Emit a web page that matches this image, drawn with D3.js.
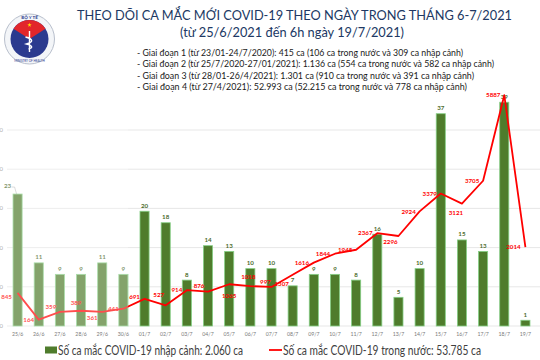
<!DOCTYPE html>
<html>
<head>
<meta charset="utf-8">
<script src="https://cdn.jsdelivr.net/npm/d3@7"></script>
<style>
  body { margin: 0; background: #fff; }
  svg { display: block; font-family: Lato, 'Open Sans', sans-serif; }
</style>
</head>
<body>
<svg id="chart" width="540" height="360"></svg>
<script>
// data
const dates = ['25/6', '26/6', '27/6', '28/6', '29/6', '30/6', '01/7', '02/7', '03/7', '04/7', '05/7', '06/7', '07/7',
    '08/7', '09/7', '10/7', '11/7', '12/7', '13/7', '14/7', '15/7', '16/7', '17/7', '18/7', '19/7'];
const importedCases = [23, 11, 9, 9, 11, 9, 20, 18, 8, 14, 13, 10, 10, 7, 9, 9, 8, 16, 5, 10, 37, 15, 13, 39, 1];
const domesticCases = [845, 164, 359, 389, 361, 441, 691, 527, 914, 876, 1065, 1018, 997, 1307, 1616, 1844, 1945,
    2367, 2296, 2924, 3379, 3121, 3705, 5887, 2014];
const lineTicks = [0, 1000, 2000, 3000, 4000, 5000];

const titleLines = ['THEO DÕI CA MẮC MỚI COVID-19 THEO NGÀY TRONG THÁNG 6-7/2021',
    '(từ 25/6/2021 đến 6h ngày 19/7/2021)'];
const phaseLines = [
    '- Giai đoạn 1 (từ 23/01-24/7/2020): 415 ca (106 ca trong nước và 309 ca nhập cảnh)',
    '- Giai đoạn 2 (từ 25/7/2020-27/01/2021): 1.136 ca (554 ca trong nước và 582 ca nhập cảnh)',
    '- Giai đoạn 3 (từ 28/01-26/4/2021): 1.301 ca (910 ca trong nước và 391 ca nhập cảnh)',
    '- Giai đoạn 4 (từ 27/4/2021): 52.993 ca (52.215 ca trong nước và 778 ca nhập cảnh)'
];
const legendLabels = ['Số ca mắc COVID-19 nhập cảnh: 2.060 ca', 'Số ca mắc COVID-19 trong nước: 53.785 ca'];

// where the red labels sit next to their points (layout only)
const lineLabelDx = [-11, -10, -9, -5, -10, -10, -10, -7, -10, -9, 0, -2, -6, -11, -12, -12, -11, -12, -8, -11, -11, -6, -11, -11, -12];
const lineLabelDy = [4, 0, -5, -8, 6, 0, -2, -11, 0, -6, 12, -9, -5, 9, 0, 0, 0, 0, 6, 0, 0, 9, 0, 0, 0];

const svg = d3.select('#chart');
const baseY = 326;

const x = d3.scaleBand()
    .domain(dates)
    .range([7, 536])
    .paddingInner(0.57)
    .paddingOuter(0.285);
const yBar = d3.scaleLinear().domain([0, 40]).range([baseY, 96.5]);
const yLine = d3.scaleLinear().domain([0, 5000]).range([baseY, 130]);
const cx = d => x(d) + x.bandwidth() / 2;

// logo
const logo = svg.append('g').attr('transform', 'translate(29.5, 39)');
logo.append('circle').attr('r', 25).attr('fill', '#f3f5f8').attr('stroke', '#b8bfcc').attr('stroke-width', 1);
logo.append('circle').attr('r', 19).attr('fill', '#2b3a8f');
logo.append('path')
    .attr('d', d3.arc()({ innerRadius: 0, outerRadius: 19, startAngle: -1.0, endAngle: 1.0 }))
    .attr('fill', '#e2262b');
logo.append('path')
    .attr('d', d3.symbol(d3.symbolStar, 6)())
    .attr('transform', 'translate(0, -14)')
    .attr('fill', '#ffd400');
logo.append('path')
    .attr('d', 'M0,-8 L0,13 M-4,-2 C4,0 4,3 -3,5 C4,7 3,9 -1,10')
    .attr('fill', 'none').attr('stroke', '#fff').attr('stroke-width', 1.4);
logo.append('text').attr('y', -20).attr('text-anchor', 'middle')
    .attr('font-size', 4.5).attr('font-weight', 700).attr('fill', '#2b3a8f').text('BỘ Y TẾ');
logo.append('text').attr('y', 23).attr('text-anchor', 'middle')
    .attr('font-size', 3).attr('fill', '#2b3a8f').text('MINISTRY OF HEALTH');

// title
svg.append('text').attr('x', 77).attr('y', 20)
    .attr('font-size', 13.5).attr('fill', '#203864')
    .attr('textLength', 435).attr('lengthAdjust', 'spacingAndGlyphs')
    .text(titleLines[0]);
svg.append('text').attr('x', 180).attr('y', 37)
    .attr('font-size', 13.5).attr('fill', '#203864')
    .attr('textLength', 224).attr('lengthAdjust', 'spacingAndGlyphs')
    .text(titleLines[1]);

// the four phases
const phaseWidths = [326, 357, 337, 330];
svg.selectAll('text.phase')
    .data(phaseLines)
    .enter()
    .append('text')
    .attr('class', 'phase')
    .attr('x', 137)
    .attr('y', (d, i) => 56 + i * 11.3)
    .attr('font-size', 9.5)
    .attr('fill', '#1a1a1a')
    .attr('textLength', (d, i) => phaseWidths[i])
    .attr('lengthAdjust', 'spacingAndGlyphs')
    .text(d => d);

// gridlines for the line axis, labels mostly cut by the left edge
const grid = svg.append('g');
grid.selectAll('line')
    .data(lineTicks)
    .enter()
    .append('line')
    .attr('x1', 7).attr('x2', 540)
    .attr('y1', d => yLine(d)).attr('y2', d => yLine(d))
    .attr('stroke', '#dcdcdc').attr('stroke-width', 0.7);
grid.selectAll('text')
    .data(lineTicks)
    .enter()
    .append('text')
    .attr('x', 3).attr('y', d => yLine(d) + 2)
    .attr('text-anchor', 'end')
    .attr('font-size', 6).attr('fill', '#8c8c8c')
    .text(d => d);

// bars
svg.append('g')
    .selectAll('rect')
    .data(importedCases)
    .enter()
    .append('rect')
    .attr('x', (d, i) => x(dates[i]))
    .attr('y', d => yBar(d))
    .attr('width', x.bandwidth())
    .attr('height', d => baseY - yBar(d))
    .attr('fill', '#4f7c2c')
    .attr('stroke', '#86cf86')
    .attr('stroke-width', 0.8);

svg.append('g')
    .selectAll('text')
    .data(importedCases)
    .enter()
    .append('text')
    .attr('x', (d, i) => cx(dates[i]) + (i === 0 ? -10 : 0))
    .attr('y', (d, i) => yBar(d) - (i === 0 ? 6 : 3.5))
    .attr('text-anchor', 'middle')
    .attr('font-size', 6.2).attr('font-weight', 700)
    .attr('fill', '#4c6b2c')
    .text(d => d);
svg.append('path')
    .attr('d', `M${cx(dates[0]) - 6},${yBar(importedCases[0]) - 7} L${cx(dates[0]) - 3},${yBar(importedCases[0]) - 7} L${cx(dates[0]) - 1},${yBar(importedCases[0])}`)
    .attr('fill', 'none').attr('stroke', '#999').attr('stroke-width', 0.5);

// domestic cases line
const line = d3.line()
    .x((d, i) => cx(dates[i]))
    .y(d => yLine(d));
svg.append('path')
    .datum(domesticCases)
    .attr('d', line)
    .attr('fill', 'none')
    .attr('stroke', '#ff0000')
    .attr('stroke-width', 1.8)
    .attr('stroke-linejoin', 'round');

svg.append('g')
    .selectAll('text')
    .data(domesticCases)
    .enter()
    .append('text')
    .attr('x', (d, i) => cx(dates[i]) + lineLabelDx[i])
    .attr('y', (d, i) => yLine(d) + lineLabelDy[i])
    .attr('dy', '0.35em')
    .attr('text-anchor', 'middle')
    .attr('font-size', 6.2).attr('font-weight', 700)
    .attr('fill', '#ff0000')
    .text(d => d);

// the first days are washed out in the original
svg.append('rect')
    .attr('x', 0).attr('y', 100)
    .attr('width', x(dates[6]) - 12).attr('height', 240)
    .attr('fill', '#fff').attr('opacity', 0.3);

// x axis
const xAxis = d3.axisBottom(x).tickSize(0).tickPadding(0);
const xAxisG = svg.append('g')
    .attr('transform', `translate(0, ${baseY + 6})`)
    .call(xAxis);
xAxisG.select('.domain').remove();
xAxisG.selectAll('text')
    .attr('font-family', 'Lato, sans-serif')
    .attr('font-size', 5.2)
    .attr('fill', '#7a7a7a');

// legend
const legend = svg.append('g');
legend.append('rect')
    .attr('x', 45).attr('y', 346.5).attr('width', 12).attr('height', 7)
    .attr('fill', '#4f7c2c');
legend.append('text')
    .attr('x', 58).attr('y', 354.5)
    .attr('font-size', 12.5).attr('fill', '#404040')
    .attr('textLength', 185).attr('lengthAdjust', 'spacingAndGlyphs')
    .text(legendLabels[0]);
legend.append('line')
    .attr('x1', 269).attr('x2', 282).attr('y1', 350).attr('y2', 350)
    .attr('stroke', '#ff0000').attr('stroke-width', 1.8);
legend.append('text')
    .attr('x', 283).attr('y', 354.5)
    .attr('font-size', 12.5).attr('fill', '#404040')
    .attr('textLength', 198).attr('lengthAdjust', 'spacingAndGlyphs')
    .text(legendLabels[1]);
</script>
</body>
</html>
